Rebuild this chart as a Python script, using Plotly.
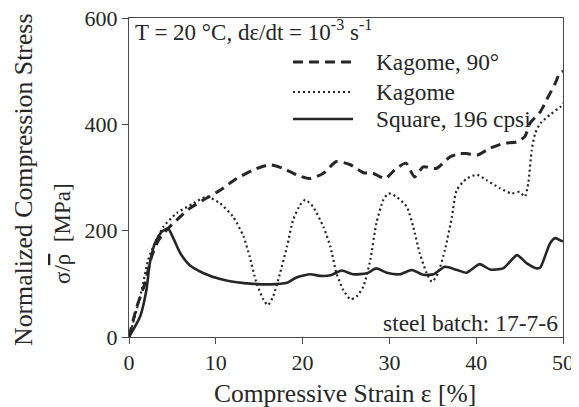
import plotly.graph_objects as go

# Square, 196 cpsi (solid)
sq_x = [0, 1.27, 2.0, 2.4, 3.0, 3.77, 4.5, 5.1, 5.9, 7.0, 8.6, 10.5, 12.4, 14.3, 16.2, 18.2, 19.3,
        20.9, 22.0, 23.2, 24.5, 25.8, 27.4, 28.5, 29.7, 31.2, 32.6, 33.9, 35.1, 36.4, 37.8, 38.9,
        40.4, 41.6, 43.1, 44.7, 45.8, 47.0, 47.4, 48.5, 49.1, 49.8, 50]
sq_y = [0, 38, 88, 139, 177, 198, 204, 186, 158, 135, 120, 109, 103, 100, 99, 102, 112,
        118, 115, 116, 125, 118, 120, 129, 121, 118, 126, 117, 118, 132, 126, 121,
        137, 127, 129, 154, 139, 129, 131, 176, 186, 181, 180]

# Kagome, 90 deg (dashed)
k90_x = [0, 0.9, 1.84, 2.6, 3.4, 4.3, 5.7, 7.0, 8.6, 10.5, 12.4, 14.3, 16.2, 17.8, 19.3, 20.9,
         22.4, 23.9, 25.5, 27.0, 28.1, 29.5, 30.6, 31.9, 32.9, 33.9, 35.4, 37.0, 38.1, 38.9,
         40.1, 41.6, 43.1, 44.7, 45.6, 46.2, 47.4, 48.3, 49.1, 49.6, 50]
k90_y = [0, 57, 101, 151, 182, 201, 223, 242, 258, 276, 298, 314, 324, 317, 305, 298,
         308, 330, 324, 309, 308, 298, 314, 327, 301, 320, 317, 339, 345, 345,
         342, 355, 364, 367, 377, 402, 424, 452, 477, 496, 500]

# Kagome (dotted)
kg_x = [0, 0.7, 1.46, 2.2, 2.8, 3.95, 5.5, 7.4, 8.95, 10.5, 12.0, 13.2, 13.9, 14.7, 15.5, 16.0,
        16.6, 17.4, 18.2, 18.9, 19.7, 20.3, 21.2, 22.4, 23.2, 23.9, 24.7, 25.5, 26.2, 27.0,
        27.8, 28.5, 29.3, 29.9, 30.8, 32.0, 32.75, 33.5, 34.3, 34.9, 35.6, 36.4, 37.2, 37.75,
        38.9, 40.1, 41.2, 42.7, 44.1, 45.0, 45.6, 46.0, 46.4, 46.8, 47.4, 48.5, 49.7, 50]
kg_y = [0, 40, 88, 145, 170, 207, 233, 251, 264, 251, 226, 189, 151, 101, 70, 60,
        76, 120, 170, 220, 248, 258, 245, 207, 170, 120, 88, 71, 76, 95,
        145, 214, 258, 270, 264, 245, 207, 157, 120, 104, 120, 164, 226, 276,
        298, 305, 295, 280, 270, 273, 264, 289, 352, 383, 402, 418, 433, 440]

x_ticks = [0, 10, 20, 30, 40, 50]
y_ticks = [0, 200, 400, 600]
legend_names = ["Kagome, 90°", "Kagome", "Square, 196 cpsi"]

INK = "#262626"
AXC = "#4a4a4a"
FONT = "Liberation Serif"

fig = go.Figure()
fig.add_trace(go.Scatter(x=k90_x, y=k90_y, mode="lines", name=legend_names[0],
                         line=dict(color=INK, width=3, dash="10px,6px", shape="spline", smoothing=0.6)))
fig.add_trace(go.Scatter(x=kg_x, y=kg_y, mode="lines", name=legend_names[1],
                         line=dict(color=INK, width=2.2, dash="2px,3px", shape="spline", smoothing=0.6)))
fig.add_trace(go.Scatter(x=sq_x, y=sq_y, mode="lines", name=legend_names[2],
                         line=dict(color=INK, width=2.6, shape="spline", smoothing=0.6)))

# page has an 8px body margin: figure is drawn from (8, 8) of the window
OFF = 8
W, H = 579 - OFF, 407 - OFF
PL, PR, PT, PB = 129, 563, 18, 337        # plot area in window pixels
ml, mr, mt, mb = PL - OFF, W - (PR - OFF), PT - OFF, H - (PB - OFF)
pw, ph = PR - PL, PB - PT
def px(xp): return (xp - PL) / pw
def py(yp): return 1 - (yp - PT) / ph

def f(size):
    return dict(size=size, family=FONT, color=INK)

leg_rows = [62, 92, 119]
leg_styles = [dict(width=3, dash="10px,6px"), dict(width=2.2, dash="2px,3px"), dict(width=2.6, dash="solid")]
shapes = []
annotations = []
for name, yr, st in zip(legend_names, leg_rows, leg_styles):
    shapes.append(dict(type="line", xref="paper", yref="paper", x0=px(293), x1=px(353), y0=py(yr), y1=py(yr),
                       line=dict(color=INK, width=st["width"], dash=st["dash"])))
    annotations.append(dict(xref="paper", yref="paper", x=px(374), y=py(yr), text=name, showarrow=False,
                            xanchor="left", yanchor="middle", font=f(23.3)))

annotations.append(dict(xref="paper", yref="paper", x=px(133), y=py(31),
                        text="T = 20 °C, dε/dt = 10<sup>-3</sup> s<sup>-1</sup>", showarrow=False,
                        xanchor="left", yanchor="middle", font=f(23)))
annotations.append(dict(xref="paper", yref="paper", x=px(560), y=py(323), text="steel batch: 17-7-6",
                        showarrow=False, xanchor="right", yanchor="middle", font=f(23.5)))
annotations.append(dict(xref="paper", yref="paper", x=px(23), y=py(180), text="Normalized Compression Stress",
                        showarrow=False, textangle=-90, xanchor="center", yanchor="middle", font=f(25.8)))
annotations.append(dict(xref="paper", yref="paper", x=px(62), y=py(234),
                        text="σ/<span style=\"text-decoration:overline\">ρ</span>  [MPa]",
                        showarrow=False, textangle=-90, xanchor="center", yanchor="middle", font=f(23)))
annotations.append(dict(xref="paper", yref="paper", x=px(345), y=py(393), text="Compressive Strain ε [%]",
                        showarrow=False, xanchor="center", yanchor="middle", font=f(25.5)))

fig.update_layout(
    width=W, height=H,
    margin=dict(l=ml, r=mr, t=mt, b=mb, autoexpand=False),
    paper_bgcolor="white", plot_bgcolor="white",
    showlegend=False,
    font=f(22),
    shapes=shapes, annotations=annotations,
)
fig.update_xaxes(range=[0, 50], tickvals=x_ticks, ticks="outside", ticklen=6, tickwidth=1,
                 tickcolor=AXC, showline=True, linecolor=AXC, linewidth=1, mirror=True,
                 showgrid=False, zeroline=False, tickfont=f(22), automargin=False,
                 ticklabeloverflow="allow")
fig.update_yaxes(range=[0, 600], tickvals=y_ticks, ticks="outside", ticklen=6, tickwidth=1,
                 tickcolor=AXC, showline=True, linecolor=AXC, linewidth=1, mirror=True,
                 showgrid=False, zeroline=False, tickfont=f(22), automargin=False,
                 ticklabeloverflow="allow")

fig.write_html("out.html")
